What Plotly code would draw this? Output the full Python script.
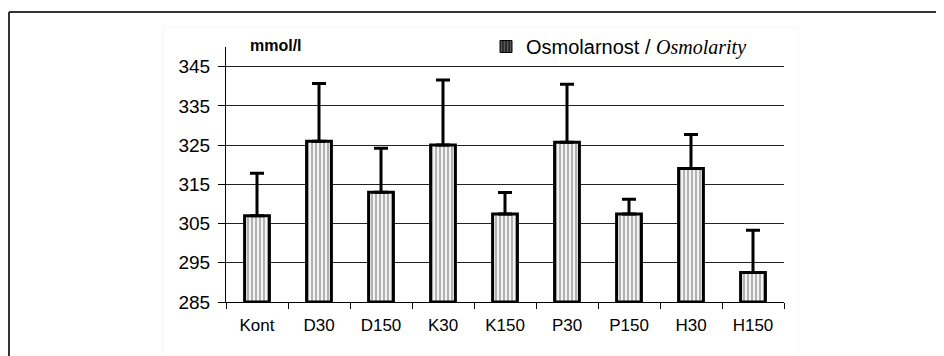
import plotly.graph_objects as go

categories = ["Kont", "D30", "D150", "K30", "K150", "P30", "P150", "H30", "H150"]
osmolarity = [307.0, 326.0, 313.0, 325.0, 307.4, 325.7, 307.4, 319.0, 292.5]
error_plus = [10.8, 14.7, 11.2, 16.6, 5.5, 14.8, 3.8, 8.7, 10.8]
BASE = 285
y_ticks = [285, 295, 305, 315, 325, 335, 345]
series_name = "Osmolarnost / <i><span style='font-family:Liberation Serif'>Osmolarity</span></i>"

OFF = 8  # default page body margin
W, H = 944 - OFF, 356 - OFF
ML, MR, MT, MB = 226 - OFF, 160, 47 - OFF, 54
PW, PH = W - ML - MR, H - MT - MB

def px_x(px):
    return (px - OFF - ML) / PW

def px_y(py):
    return (H - MB - (py - OFF)) / PH

fig = go.Figure()
fig.add_trace(go.Bar(
    x=categories,
    y=[v - BASE for v in osmolarity],
    base=BASE,
    name=series_name,
    marker=dict(
        color="#eeeeee",
        line=dict(color="black", width=3),
        pattern=dict(shape="|", fgcolor="#555555", bgcolor="#f2f2f2", size=4, solidity=0.4),
    ),
    error_y=dict(type="data", symmetric=False, array=error_plus,
                 arrayminus=[0] * len(error_plus),
                 color="black", thickness=3, width=7),
    showlegend=False,
))
# legend entry (dark swatch as in the original)
fig.add_trace(go.Bar(
    x=[None], y=[None], name=series_name, showlegend=True,
    marker=dict(color="#222222", line=dict(color="black", width=1),
                pattern=dict(shape="|", fgcolor="#dddddd", bgcolor="#222222", size=4, solidity=0.3)),
))

fig.update_layout(
    width=W, height=H,
    margin=dict(l=ML, r=MR, t=MT, b=MB, pad=0),
    paper_bgcolor="white", plot_bgcolor="white",
    bargap=0.6, barmode="overlay",
    font=dict(family="Liberation Sans, Arial", color="black"),
    xaxis=dict(
        type="category", showline=True, linecolor="black", linewidth=1,
        ticks="outside", tickson="boundaries", ticklen=6, tickcolor="black",
        tickfont=dict(size=17), showgrid=False, zeroline=False,
        ticklabelstandoff=8,
    ),
    yaxis=dict(
        range=[285, 350], tickvals=y_ticks, ticks="outside", ticklen=7,
        tickcolor="black", showline=True, linecolor="black", linewidth=1,
        showgrid=True, gridcolor="#222222", gridwidth=1, zeroline=False,
        tickfont=dict(size=19), ticklabelstandoff=4,
    ),
    legend=dict(
        x=px_x(486), y=px_y(27), xanchor="left", yanchor="top",
        font=dict(size=20, family="Liberation Sans, Arial"),
        bgcolor="rgba(0,0,0,0)", itemwidth=30,
    ),
    annotations=[dict(
        text="<b>mmol/l</b>", x=px_x(248), y=px_y(45), xref="paper", yref="paper",
        xanchor="left", yanchor="middle", showarrow=False,
        font=dict(size=16, family="Liberation Sans, Arial"),
    )],
    shapes=[
        dict(type="line", xref="paper", yref="paper",
             x0=px_x(9), x1=px_x(944), y0=px_y(12), y1=px_y(12),
             line=dict(color="#333333", width=2)),
        dict(type="line", xref="paper", yref="paper",
             x0=px_x(9), x1=px_x(9), y0=px_y(12), y1=px_y(356),
             line=dict(color="#333333", width=2)),
        dict(type="rect", xref="paper", yref="paper",
             x0=px_x(163), x1=px_x(798), y0=px_y(27), y1=px_y(356),
             line=dict(color="#f6f6f6", width=1), layer="below"),
    ],
)

fig.write_html("out.html")
